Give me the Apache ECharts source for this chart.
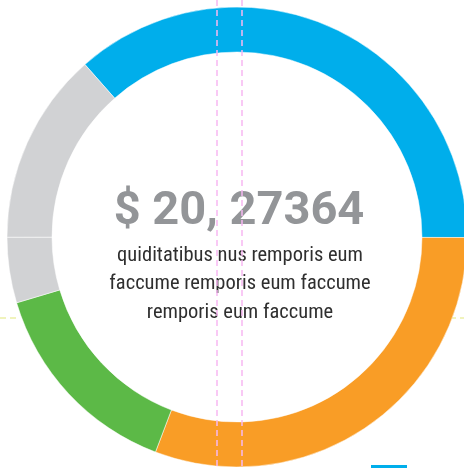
<!DOCTYPE html>
<html>
<head>
<meta charset="utf-8">
<script src="https://cdn.jsdelivr.net/npm/echarts@6/dist/echarts.min.js"></script>
<style>
  html, body { margin: 0; padding: 0; background: #fff; }
  #chart { width: 464px; height: 468px; }
</style>
</head>
<body>
<div id="chart"></div>
<script>
// segments, clockwise from the upper-left edge of the blue arc
const names = ["Blue", "Orange", "Green", "Gray B", "Gray A"];
const values = [36.5, 30.7, 14.6, 4.6, 13.5];
const colors = ["#00AEEB", "#F99D26", "#5CB947", "#D1D2D4", "#D1D2D4"];

const totalLabel = "$ 20, 27364";
const caption = "quiditatibus nus remporis eum\nfaccume remporis eum faccume\nremporis eum faccume";

const chart = echarts.init(document.getElementById("chart"));

chart.setOption({
  animation: false,
  series: [
    {
      type: "pie",
      center: [237, 237],
      radius: [185, 230],
      startAngle: 131.4,
      clockwise: true,
      label: { show: false },
      labelLine: { show: false },
      emphasis: { disabled: true },
      itemStyle: { borderColor: "#fff", borderWidth: 0.5 },
      data: names.map((n, i) => ({
        name: n,
        value: values[i],
        itemStyle: { color: colors[i] },
      })),
    },
  ],
  graphic: [
    // guide marks from the original artboard
    { type: "line", z: -1, shape: { x1: 0, y1: 318, x2: 20, y2: 318 },
      style: { stroke: "#E2E87A", lineWidth: 1.2, lineDash: [6, 4] } },
    { type: "line", z: -1, shape: { x1: 450, y1: 318, x2: 464, y2: 318 },
      style: { stroke: "#E2E87A", lineWidth: 1.2, lineDash: [6, 4] } },
    {
      type: "text",
      style: {
        x: 239, y: 212,
        text: totalLabel,
        textAlign: "center",
        textVerticalAlign: "middle",
        font: "bold 47px Roboto",
        fill: "#939598",
      },
    },
    {
      type: "text",
      style: {
        x: 240, y: 284,
        text: caption,
        textAlign: "center",
        textVerticalAlign: "middle",
        lineHeight: 28.5,
        font: "20.5px 'Roboto Condensed', 'Liberation Sans Narrow', 'DejaVu Sans Condensed'",
        fill: "#2F2F2F",
      },
    },
    { type: "line", z: 10, shape: { x1: 217, y1: 0, x2: 217, y2: 466 },
      style: { stroke: "#F7B8F2", lineWidth: 1.5, lineDash: [6, 4] } },
    { type: "line", z: 10, shape: { x1: 242, y1: 0, x2: 242, y2: 466 },
      style: { stroke: "#F7B8F2", lineWidth: 1.5, lineDash: [6, 4] } },
    { type: "rect", z: 10, shape: { x: 371, y: 465, width: 36, height: 3 },
      style: { fill: "#00AEEB" } },
  ],
});

window.addEventListener("resize", () => {
  chart.resize();
});
</script>
</body>
</html>
